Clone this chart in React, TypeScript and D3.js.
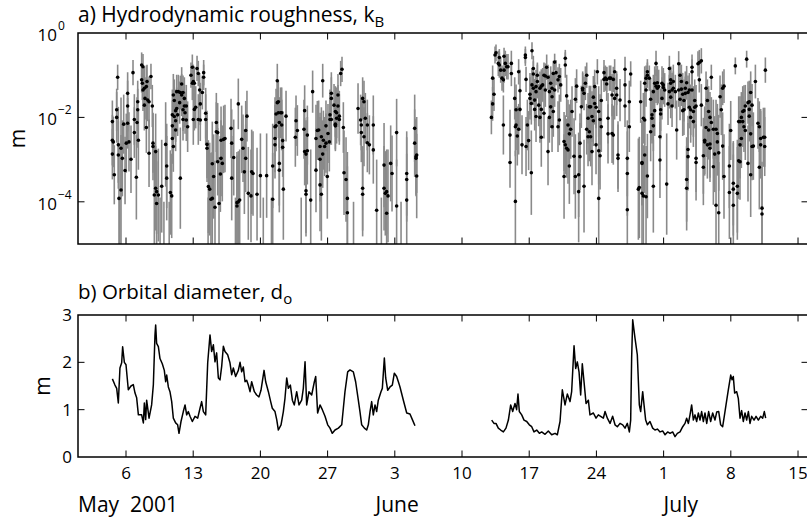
import React from "react";
import * as d3 from "d3";

// ---- axis definitions (days since 1 May 2001) ----
const weekTickDays = [5, 12, 19, 26, 33, 40, 47, 54, 61, 68, 75];
const weekTickLabels = ["6", "13", "20", "27", "3", "10", "17", "24", "1", "8", "15"];
const monthStartDays = [0, 31, 61];
const monthLabels = ["May  2001", "June", "July"];
const kbDecadeTicks = [1e-4, 1e-2, 1];
const kbTickExponents = ["\u22124", "\u22122", "0"];
const doTicks = [0, 1, 2, 3];

// ---- a) hydrodynamic roughness: [day, log10(kB in m), error half-width in decades] ----
const kbObs: [number, number, number][] = [
  [3.58,-2.10,0.5],[3.58,-2.54,0.6],[3.58,-2.87,0.6],[3.68,-2.58,0.6],[3.78,-3.36,0.7],
  [4.03,-2.00,0.6],[4.03,-1.82,0.5],[4.13,-1.05,0.3],[4.20,-2.65,0.9],[4.20,-2.89,0.8],
  [4.27,-3.92,1.3],[4.35,-5.3,1.4],[4.48,-2.73,1.2],[4.48,-3.72,1.3],[4.62,-2.97,0.9],[4.76,-2.16,0.7],
  [4.90,-3.26,0.8],[5.03,-2.61,0.7],[5.17,-1.43,0.5],[5.17,-1.73,0.6],[5.17,-2.14,0.6],
  [5.31,-2.58,0.7],[5.52,-2.99,0.8],[5.73,-0.94,0.3],[5.87,-2.05,0.6],[5.87,-2.36,0.6],
  [6.08,-3.42,1.0],[6.15,-2.12,0.6],[6.22,-1.82,0.5],[6.22,-1.63,0.5],[6.29,-2.54,0.7],
  [6.63,-0.76,0.3],[6.63,-1.11,0.3],[6.70,-1.19,0.4],[6.77,-0.80,0.3],[6.77,-1.35,0.5],
  [6.91,-1.31,0.5],[6.91,-1.71,0.6],[6.98,-1.55,0.5],[7.12,-1.27,0.5],[7.12,-2.24,0.6],
  [7.19,-1.15,0.4],[7.26,-1.59,0.5],[7.40,-1.63,0.6],[7.40,-2.85,0.8],[7.60,-1.03,0.3],
  [7.74,-1.73,0.5],[7.81,-2.69,0.8],[7.81,-2.61,0.7],[7.95,-3.84,1.2],[8.09,-2.81,0.9],
  [8.09,-3.68,1.0],[8.19,-3.76,1.0],[8.19,-4.04,1.0],[8.37,-3.84,1.1],[8.55,-5.4,1.5],[8.72,-3.63,1.1],
  [8.95,-5.3,1.3],[9.13,-2.64,1.0],[9.24,-3.15,1.0],[9.24,-3.44,1.0],[9.5,-5.4,1.4],[9.62,-3.78,1.0],[9.76,-3.86,1.0],
  [9.83,-2.20,0.6],[9.83,-2.50,0.6],[9.83,-1.94,0.6],[9.93,-2.69,0.6],[9.93,-1.47,0.5],
  [10.03,-1.60,0.5],[10.03,-1.98,0.5],[10.17,-2.08,0.5],[10.17,-1.84,0.5],[10.17,-2.30,0.5],
  [10.28,-1.79,0.5],[10.28,-1.39,0.4],[10.38,-1.94,0.5],[10.45,-1.39,0.4],[10.59,-1.65,0.5],
  [10.66,-1.41,0.4],[10.66,-3.44,1.2],[10.80,-1.21,0.4],[10.80,-1.47,0.5],[10.94,-1.41,0.4],
  [10.94,-1.82,0.5],[10.94,-2.05,0.5],[11.08,-1.55,0.5],[11.08,-1.73,0.5],[11.15,-1.89,0.5],
  [11.28,-1.73,0.5],[11.28,-2.06,0.5],[11.42,-2.22,0.6],[11.77,-1.00,0.3],[11.91,-0.81,0.3],
  [11.91,-1.19,0.4],[12.01,-1.15,0.4],[12.01,-2.05,0.6],[12.12,-1.19,0.4],[12.12,-1.81,0.5],
  [12.26,-1.76,0.5],[12.40,-0.84,0.3],[12.53,-0.96,0.3],[12.53,-2.05,0.6],[12.67,-1.35,0.4],
  [12.74,-1.68,0.5],[12.74,-2.06,0.5],[12.95,-1.41,0.4],[13.09,-0.94,0.3],[13.09,-1.05,0.3],
  [13.30,-2.05,0.6],[13.30,-1.90,0.6],[13.44,-2.64,0.8],[13.44,-2.73,0.8],[13.55,-5.2,1.3],[13.58,-3.64,1.1],
  [13.72,-3.70,1.1],[13.85,-3.94,1.1],[13.99,-3.10,1.0],[13.99,-3.92,1.1],[14.13,-3.40,1.0],
  [14.27,-4.13,1.1],[14.41,-2.12,0.7],[14.41,-2.34,0.7],[14.55,-2.36,0.7],[14.55,-3.05,0.8],
  [14.69,-4.04,1.1],[14.83,-3.34,0.9],[14.90,-2.97,0.9],[14.90,-2.54,0.8],[15.03,-3.09,0.9],
  [15.17,-2.52,0.8],[15.31,-2.50,0.8],[15.94,-2.26,0.7],[16.01,-2.61,0.8],[16.01,-3.44,1.0],
  [16.22,-2.95,0.9],[16.4,-5.5,1.6],[16.56,-4.10,1.2],[16.56,-4.02,1.2],[16.70,-1.68,0.6],[16.70,-4.00,1.2],
  [16.84,-3.96,1.2],[17.05,-2.52,0.8],[17.19,-2.73,0.8],[17.33,-3.29,1.0],[17.47,-2.31,0.7],
  [17.47,-2.97,0.8],[17.60,-1.97,0.6],[17.74,-3.80,1.1],[18.02,-3.86,1.1],[18.09,-3.29,1.0],
  [18.23,-3.33,1.0],[18.65,-3.82,1.1],[19.00,-3.38,1.0],[19.3,-5.3,1.4],
  [19.65,-3.38,1.0],[20.15,-5.4,1.5],[20.28,-3.15,1.0],[20.28,-3.94,1.1],[20.52,-2.50,0.8],[20.52,-2.65,0.8],
  [20.52,-2.22,0.7],[20.63,-1.92,0.6],[20.63,-2.20,0.6],[20.76,-1.13,0.4],[20.76,-1.65,0.5],
  [20.87,-1.63,0.5],[20.87,-1.89,0.6],[20.97,-3.09,1.0],[20.97,-3.25,1.0],[20.97,-2.12,0.6],
  [21.11,-1.89,0.6],[21.22,-2.18,0.6],[21.22,-1.89,0.6],[21.32,-2.55,0.7],[21.32,-2.71,0.7],
  [21.39,-3.70,1.2],[21.67,-1.97,0.6],[22.64,-2.47,0.7],[22.71,-2.08,0.6],[22.85,-2.31,0.6],
  [23.25,-5.3,1.4],[23.54,-2.28,0.7],[23.61,-1.84,0.6],[23.61,-2.81,0.8],[23.75,-2.87,0.8],[23.75,-3.74,1.0],
  [23.75,-3.82,1.0],[23.89,-2.42,0.7],[23.89,-2.79,0.8],[24.24,-3.96,1.2],[24.44,-1.39,0.5],
  [24.79,-3.25,1.0],[24.79,-2.50,0.8],[24.93,-2.31,0.7],[25.07,-2.30,0.7],[25.21,-3.60,1.1],
  [25.21,-2.99,1.0],[25.21,-2.69,0.8],[25.35,-2.46,0.7],[25.35,-3.82,1.1],[25.49,-1.13,0.4],
  [25.49,-2.87,0.8],[25.56,-2.54,0.7],[25.69,-2.69,0.7],[25.83,-2.20,0.6],[25.83,-2.61,0.7],
  [25.97,-3.40,1.0],[26.04,-2.38,0.7],[26.18,-2.58,0.7],[26.25,-1.94,0.6],[26.25,-2.05,0.6],
  [26.39,-1.43,0.5],[26.39,-1.55,0.5],[26.39,-2.05,0.6],[26.67,-1.71,0.5],[26.81,-1.86,0.6],
  [26.81,-2.16,0.6],[26.81,-2.20,0.6],[26.94,-2.02,0.6],[26.94,-1.89,0.6],[27.08,-1.47,0.5],
  [27.08,-1.73,0.5],[27.22,-2.05,0.6],[27.22,-1.97,0.6],[27.36,-0.96,0.3],[27.50,-0.86,0.3],
  [27.64,-2.24,0.6],[27.71,-3.31,1.0],[27.92,-3.47,1.0],[28.06,-3.92,1.1],[28.06,-4.26,1.1],
  [28.7,-5.3,1.3],[29.17,-1.79,0.6],[29.44,-2.06,0.6],[29.51,-2.36,0.7],[29.51,-2.18,0.6],[29.65,-1.55,0.5],
  [29.65,-3.68,1.0],[29.65,-3.82,1.0],[29.79,-1.63,0.5],[29.79,-2.46,0.7],[29.93,-2.02,0.6],
  [30.14,-2.18,0.6],[30.14,-2.60,0.7],[30.35,-2.65,0.7],[30.76,-2.18,0.7],[30.76,-2.77,0.8],
  [31.11,-4.20,1.2],[31.6,-5.2,1.3],[31.88,-3.13,1.0],[31.88,-3.68,1.0],[32.01,-3.80,1.0],[32.15,-3.76,1.0],
  [32.15,-4.27,1.1],[32.29,-3.86,1.1],[32.57,-3.09,0.9],[32.71,-3.33,0.9],[33.19,-4.10,1.1],
  [33.19,-2.36,0.8],[33.65,-5.4,1.4],[34.24,-3.33,1.0],[34.24,-3.47,1.0],[34.24,-3.96,1.1],[35.07,-2.26,0.8],
  [35.07,-2.61,0.8],[35.21,-2.93,0.9],[35.21,-2.97,0.9],[35.28,-2.89,0.9],[35.28,-3.39,1.0],
  [43.06,-2.00,0.4],[43.19,-1.68,0.4],[43.19,-1.07,0.3],[43.33,-1.45,0.4],[43.44,-0.52,0.2],
  [43.54,-0.47,0.2],[43.78,-0.72,0.3],[43.89,-0.76,0.3],[43.89,-0.58,0.2],[44.03,-0.88,0.3],
  [44.17,-1.07,0.3],[44.31,-2.18,0.7],[44.31,-1.11,0.3],[44.38,-0.55,0.2],[44.38,-0.88,0.3],
  [44.51,-0.72,0.3],[44.65,-0.80,0.3],[44.79,-0.80,0.3],[45.00,-2.42,0.6],[45.00,-3.07,0.6],
  [45.14,-0.96,0.3],[45.14,-0.72,0.3],[45.49,-1.55,0.5],[45.56,-3.99,1.2],[45.56,-2.22,0.7],
  [45.63,-1.82,0.6],[45.63,-2.18,0.6],[45.76,-2.44,0.7],[45.90,-0.92,0.3],[45.90,-2.28,0.6],
  [46.04,-1.37,0.5],[46.04,-1.81,0.5],[46.25,-2.65,0.7],[46.60,-0.52,0.2],[46.60,-0.58,0.2],
  [46.67,-1.10,0.3],[46.67,-2.69,0.7],[46.81,-2.18,0.6],[46.94,-2.55,0.7],[47.08,-1.45,0.5],
  [47.08,-1.55,0.5],[47.22,-3.31,1.0],[47.22,-1.67,0.5],[47.29,-0.42,0.2],[47.29,-1.23,0.4],
  [47.43,-0.84,0.3],[47.43,-1.31,0.4],[47.43,-0.97,0.3],[47.57,-1.59,0.5],[47.57,-1.81,0.5],
  [47.71,-1.27,0.4],[47.71,-1.39,0.4],[47.71,-1.98,0.6],[47.85,-1.00,0.3],[47.85,-1.15,0.4],
  [47.99,-1.71,0.5],[48.12,-1.31,0.4],[48.12,-2.00,0.6],[48.26,-2.47,0.7],[48.26,-1.26,0.4],
  [48.26,-1.81,0.5],[48.40,-1.23,0.4],[48.54,-1.00,0.3],[48.54,-1.90,0.6],[48.68,-1.35,0.4],
  [48.68,-1.02,0.3],[48.82,-0.81,0.3],[48.96,-2.81,0.8],[48.96,-1.05,0.3],[49.10,-1.39,0.4],
  [49.10,-2.00,0.6],[49.24,-1.75,0.5],[49.24,-1.19,0.4],[49.38,-2.22,0.6],[49.38,-1.51,0.5],
  [49.38,-1.31,0.4],[49.51,-0.96,0.3],[49.51,-1.86,0.6],[49.65,-0.69,0.2],[49.65,-1.35,0.4],
  [49.79,-0.94,0.3],[50.00,-1.11,0.3],[50.00,-2.22,0.6],[50.14,-1.03,0.3],[50.14,-2.06,0.6],
  [50.28,-1.23,0.4],[50.63,-3.40,1.0],[50.63,-2.57,0.7],[50.76,-0.60,0.2],[50.76,-0.76,0.3],
  [50.76,-2.65,0.7],[50.90,-1.49,0.5],[50.90,-2.73,0.7],[51.04,-2.18,0.6],[51.04,-2.77,0.8],
  [51.18,-3.15,0.9],[51.18,-2.39,0.7],[51.32,-2.28,0.7],[51.46,-1.86,0.6],[51.67,-2.92,0.9],
  [51.81,-1.57,0.5],[51.81,-3.40,1.0],[51.94,-1.26,0.4],[52.15,-3.76,1.2],[52.15,-3.36,1.0],
  [52.29,-2.61,0.7],[52.29,-2.93,0.8],[52.43,-1.75,0.5],[52.57,-1.31,0.4],[52.57,-1.35,0.4],
  [52.71,-3.63,1.1],[52.71,-1.43,0.4],[52.85,-1.19,0.4],[52.99,-1.00,0.3],[52.99,-2.28,0.6],
  [53.13,-2.46,0.7],[53.13,-2.02,0.6],[53.26,-1.75,0.5],[53.26,-2.34,0.7],[53.40,-1.75,0.5],
  [53.40,-2.46,0.7],[53.54,-1.98,0.6],[53.54,-2.81,0.8],[53.68,-1.52,0.5],[53.68,-2.08,0.6],
  [53.82,-1.67,0.5],[53.82,-1.27,0.4],[53.96,-1.76,0.5],[53.96,-2.65,0.7],[54.10,-0.92,0.3],
  [54.24,-3.92,1.2],[54.24,-1.86,0.6],[54.24,-2.79,0.8],[54.38,-2.91,0.8],[54.38,-2.05,0.6],
  [54.51,-2.22,0.6],[54.51,-1.60,0.5],[54.79,-0.94,0.3],[54.79,-1.10,0.3],[54.93,-1.07,0.3],
  [55.07,-1.10,0.3],[55.07,-1.21,0.4],[55.21,-2.39,0.7],[55.21,-2.02,0.6],[55.35,-1.07,0.3],
  [55.49,-1.07,0.3],[55.63,-1.47,0.5],[55.63,-2.38,0.7],[55.76,-1.10,0.3],[55.76,-2.42,0.7],
  [55.90,-0.92,0.3],[55.90,-1.55,0.5],[56.11,-1.31,0.4],[56.11,-1.47,0.5],[56.25,-2.89,0.8],
  [56.25,-2.97,0.8],[56.46,-1.59,0.5],
  [56.98,-0.86,0.3],[56.98,-1.23,0.4],[56.98,-1.73,0.5],[57.22,-2.97,0.9],[57.22,-3.33,1.0],
  [57.22,-4.19,1.2],[57.43,-2.22,0.6],[57.43,-1.63,0.5],[57.57,-0.97,0.3],[58.37,-3.70,1.2],
  [58.47,-3.66,1.2],[58.61,-1.63,0.5],[58.75,-3.07,1.0],[58.75,-3.09,1.0],[58.75,-3.80,1.2],
  [58.89,-3.86,1.2],[58.89,-2.02,0.6],[59.03,-2.89,0.9],[59.03,-2.06,0.6],[59.03,-1.19,0.4],
  [59.17,-3.88,1.2],[59.17,-1.35,0.4],[59.17,-1.07,0.3],[59.31,-0.92,0.3],[59.31,-1.00,0.3],
  [59.31,-3.39,1.0],[59.51,-1.07,0.3],[59.65,-1.57,0.5],[59.65,-2.34,0.7],[59.79,-2.02,0.6],
  [59.79,-1.94,0.6],[59.93,-3.63,1.1],[59.93,-1.39,0.4],[59.93,-2.20,0.6],[60.07,-1.84,0.6],
  [60.07,-1.19,0.4],[60.21,-1.26,0.4],[60.21,-0.72,0.3],[60.35,-1.31,0.4],[60.35,-1.18,0.4],
  [60.49,-1.27,0.4],[60.62,-2.46,0.8],[60.62,-3.01,0.9],[60.69,-1.82,0.5],[60.69,-1.92,0.6],
  [60.83,-1.55,0.5],[60.83,-1.19,0.4],[60.97,-1.23,0.4],[60.97,-1.29,0.4],[61.11,-1.35,0.4],
  [61.32,-3.58,1.2],[61.46,-1.68,0.5],[61.60,-1.39,0.4],[61.60,-0.84,0.3],[61.74,-1.52,0.5],
  [61.74,-1.19,0.4],[61.74,-1.11,0.3],[61.88,-1.35,0.4],[61.88,-1.73,0.5],[62.01,-1.31,0.4],
  [62.01,-1.15,0.4],[62.22,-1.39,0.4],[62.36,-2.30,0.7],[62.57,-0.73,0.3],[62.57,-1.35,0.4],
  [62.71,-1.57,0.5],[62.71,-1.00,0.3],[62.85,-1.15,0.4],[62.85,-1.33,0.4],[62.99,-1.84,0.6],
  [62.99,-1.45,0.5],[63.12,-1.60,0.5],[63.12,-1.82,0.6],[63.26,-1.43,0.4],[63.26,-1.31,0.4],
  [63.40,-3.47,1.0],[63.40,-3.68,1.0],[63.40,-1.18,0.4],[63.54,-2.93,0.8],[63.54,-2.76,0.8],
  [63.54,-1.41,0.4],[63.68,-1.35,0.4],[63.68,-1.76,0.5],[63.82,-2.00,0.6],[63.82,-1.82,0.6],
  [63.96,-0.81,0.3],[63.96,-0.92,0.3],[63.96,-1.35,0.4],[64.10,-2.10,0.6],[64.10,-1.86,0.6],
  [64.24,-1.60,0.5],[64.24,-1.76,0.5],[64.38,-1.73,0.5],[64.38,-2.97,0.8],[64.38,-3.07,0.9],
  [64.58,-0.73,0.3],[64.72,-0.70,0.3],[64.72,-1.11,0.3],[64.93,-0.66,0.3],[64.93,-1.71,0.5],
  [65.14,-2.91,0.9],[65.14,-3.18,0.9],[65.28,-2.58,0.8],[65.28,-2.54,0.8],[65.42,-1.31,0.4],
  [65.42,-2.24,0.7],[65.56,-1.60,0.5],[65.56,-2.65,0.8],[65.69,-2.30,0.7],[65.69,-1.86,0.6],
  [65.83,-2.00,0.6],[65.83,-2.63,0.8],[65.83,-2.73,0.8],[65.97,-1.05,0.3],[65.97,-2.12,0.6],
  [66.18,-2.28,0.7],[66.18,-3.17,0.9],[66.32,-2.87,0.9],[66.46,-4.08,1.2],[66.46,-2.28,0.7],
  [66.60,-2.58,0.8],[66.60,-2.38,0.7],[66.74,-4.26,1.2],[66.74,-2.84,0.9],[66.88,-1.51,0.5],
  [67.01,-1.82,0.6],[67.15,-1.31,0.4],[67.15,-2.68,0.8],[67.29,-1.26,0.4],[67.29,-3.40,1.0],
  [67.85,-3.15,1.0],[67.85,-3.78,1.1],[67.99,-2.31,0.7],[68.26,-3.56,1.0],[68.26,-3.70,1.1],
  [68.26,-4.08,1.2],[68.47,-0.78,0.2],[68.68,-3.63,1.1],[68.68,-3.80,1.1],[68.82,-2.10,0.6],
  [68.82,-3.03,0.9],[68.96,-2.10,0.6],[68.96,-2.65,0.8],[68.96,-3.05,0.9],[69.10,-2.00,0.6],
  [69.10,-2.50,0.7],[69.24,-1.86,0.6],[69.24,-2.10,0.6],[69.37,-1.84,0.6],[69.37,-2.22,0.6],
  [69.51,-1.73,0.5],[69.51,-2.31,0.7],[69.65,-0.62,0.2],[69.79,-3.09,0.9],[69.79,-1.65,0.5],
  [69.92,-1.81,0.5],[69.92,-1.63,0.5],[69.92,-1.97,0.6],[70.07,-1.41,0.5],[70.07,-2.39,0.7],
  [70.07,-3.36,1.0],[70.21,-1.71,0.5],[70.21,-2.69,0.8],[70.35,-2.68,0.8],[70.56,-1.15,0.4],
  [70.83,-2.14,0.6],[70.97,-2.22,0.6],[70.97,-3.18,1.0],[71.11,-2.50,0.7],[71.11,-2.65,0.8],
  [71.25,-4.15,1.1],[71.25,-4.29,1.1],[71.39,-2.47,0.7],[71.53,-2.69,0.7],[71.53,-2.47,0.7],
  [71.60,-0.88,0.3],
];

// ---- b) orbital diameter: [day, d_o in m] ----
const orbitalMayJune: [number, number][] = [
  [3.58,1.65],[3.85,1.52],[4.03,1.45],[4.20,1.14],[4.37,1.88],[4.55,1.99],[4.65,2.33],[4.83,2.0],
  [5.00,1.95],[5.24,1.42],[5.52,1.5],[5.76,1.53],[5.94,1.35],[6.11,1.25],[6.29,0.89],[6.63,0.89],
  [6.81,0.72],[6.91,1.14],[7.05,0.79],[7.15,1.2],[7.40,0.82],[7.67,1.1],[7.85,1.53],[8.02,2.58],
  [8.09,2.79],[8.19,2.4],[8.37,2.33],[8.54,2.08],[8.78,1.97],[8.99,1.83],[9.13,1.59],[9.24,1.73],
  [9.41,1.48],[9.58,1.38],[9.76,1.17],[9.93,0.82],[10.17,0.72],[10.38,0.68],[10.52,0.5],[10.73,0.75],
  [10.97,0.96],[11.15,1.1],[11.32,0.89],[11.49,0.96],[11.67,0.86],[11.91,0.75],[12.19,0.86],[12.47,0.82],
  [12.71,1.03],[12.88,1.17],[13.06,0.96],[13.30,0.89],[13.51,1.99],[13.75,2.58],[13.92,2.23],[14.10,2.37],
  [14.27,2.01],[14.44,2.2],[14.62,1.67],[14.79,1.63],[14.97,1.92],[15.14,2.34],[15.31,2.23],[15.59,2.16],
  [15.83,1.99],[16.01,1.74],[16.18,1.88],[16.42,1.7],[16.70,1.83],[16.88,2.0],[17.05,1.8],[17.22,1.9],
  [17.40,1.59],[17.57,1.62],[17.74,1.52],[17.92,1.38],[18.09,1.59],[18.37,1.38],[18.61,1.31],[18.85,1.27],
  [19.06,1.41],[19.20,1.59],[19.38,1.83],[19.55,1.59],[19.83,1.38],[20.07,1.17],[20.24,1.03],[20.52,0.96],
  [20.70,0.79],[20.87,0.57],[21.15,0.68],[21.39,0.96],[21.56,1.24],[21.74,1.67],[21.91,1.45],[22.12,1.52],
  [22.33,1.2],[22.53,1.1],[22.78,1.38],[23.02,1.1],[23.30,1.2],[23.47,1.45],[23.65,2.01],[23.82,1.1],
  [24.06,1.38],[24.34,1.31],[24.62,1.59],[24.76,1.7],[24.96,0.93],[25.21,1.1],[25.45,1.0],[25.73,0.86],
  [26.01,0.68],[26.25,0.61],[26.49,0.5],[26.77,0.57],[27.12,0.61],[27.47,0.68],[27.64,1.03],[27.81,1.38],
  [28.09,1.8],[28.33,1.84],[28.68,1.8],[28.92,1.59],[29.20,1.2],[29.37,0.96],[29.55,0.68],[29.83,0.61],
  [30.07,0.57],[30.24,0.68],[30.42,0.96],[30.59,1.17],[30.76,0.89],[30.94,1.1],[31.11,0.96],[31.28,1.2],
  [31.56,1.38],[31.70,1.45],[31.91,2.09],[32.05,1.67],[32.26,1.41],[32.50,1.48],[32.74,1.52],[32.95,1.77],
  [33.19,1.7],[33.37,1.59],[33.54,1.48],[33.89,1.2],[34.24,0.93],[34.58,0.91],[34.83,0.79],[35.10,0.66],
];
const orbitalJuneJuly: [number, number][] = [
  [43.09,0.78],[43.33,0.71],[43.54,0.71],[43.78,0.61],[44.03,0.57],[44.31,0.53],[44.58,0.61],[44.83,0.78],
  [45.07,1.1],[45.28,0.96],[45.52,1.13],[45.69,1.0],[45.83,1.33],[45.97,0.96],[46.22,0.89],[46.46,0.78],
  [46.74,0.75],[47.01,0.68],[47.26,0.64],[47.50,0.53],[47.78,0.57],[48.06,0.5],[48.30,0.53],[48.65,0.48],
  [48.99,0.55],[49.34,0.47],[49.69,0.5],[49.93,0.47],[50.21,0.75],[50.45,1.42],[50.73,1.1],[50.97,1.33],
  [51.25,1.17],[51.42,1.38],[51.67,2.35],[51.84,1.87],[52.01,2.01],[52.19,1.8],[52.36,1.31],[52.53,1.97],
  [52.71,1.59],[52.92,1.13],[53.16,1.2],[53.33,0.89],[53.68,0.93],[53.96,0.82],[54.20,0.89],[54.44,0.86],
  [54.72,0.82],[54.90,0.96],[55.14,0.82],[55.42,0.71],[55.69,0.86],[55.94,0.68],[56.18,0.64],[56.46,0.71],
  [56.74,0.68],[56.98,0.61],[57.22,0.71],[57.43,0.53],[57.57,0.78],[57.67,2.09],[57.78,2.9],[58.02,2.51],
  [58.26,2.16],[58.47,1.1],[58.61,0.96],[58.82,1.38],[58.96,1.1],[59.13,0.78],[59.31,0.68],[59.58,0.75],
  [59.86,0.61],[60.10,0.57],[60.35,0.59],[60.63,0.53],[60.90,0.55],[61.15,0.47],[61.42,0.53],[61.67,0.5],
  [61.94,0.53],[62.19,0.43],[62.43,0.5],[62.71,0.53],[62.99,0.64],[63.23,0.71],[63.40,0.82],[63.58,0.71],
  [63.75,0.89],[63.92,1.1],[64.10,0.78],[64.27,0.89],[64.44,0.75],[64.62,0.93],[64.79,0.78],[64.96,0.96],
  [65.14,0.75],[65.31,0.93],[65.49,0.71],[65.69,0.96],[65.90,0.75],[66.11,0.93],[66.35,0.78],[66.53,0.95],
  [66.74,0.96],[66.94,0.68],[67.15,0.64],[67.29,0.82],[67.50,1.1],[67.74,1.42],[67.99,1.73],[68.13,1.63],
  [68.26,1.7],[68.40,1.35],[68.61,1.38],[68.78,1.24],[68.96,0.82],[69.13,0.98],[69.30,0.75],[69.48,0.93],
  [69.65,0.78],[69.83,0.96],[70.00,0.71],[70.17,0.86],[70.42,0.78],[70.63,0.86],[70.87,0.78],[71.11,0.86],
  [71.32,0.82],[71.49,0.96],[71.63,0.82],
];

const FONT = "'Open Sans', 'DejaVu Sans', sans-serif";

export default function App() {
  const W = 807, H = 517;
  const left = 78, right = 808;
  const aTop = 33, aBot = 244;
  const bTop = 315, bBot = 457;
  const tick = 6.5;

  const x = d3.scaleLinear().domain([0, 76.04]).range([left, right]);
  const yA = d3.scaleLog().domain([1e-5, 1]).range([aBot, aTop]);
  const yB = d3.scaleLinear().domain([0, 3]).range([bBot, bTop]);

  const line = d3
    .line<[number, number]>()
    .x((d) => x(d[0]))
    .y((d) => yB(d[1]));

  const frame = (top: number, bot: number, yTicks: number[]) => (
    <g>
      {weekTickDays.map((d) => (
        <g key={"t" + d}>
          <line x1={x(d)} x2={x(d)} y1={top} y2={top + tick} stroke="#000" strokeWidth={1} />
          <line x1={x(d)} x2={x(d)} y1={bot} y2={bot - tick} stroke="#000" strokeWidth={1} />
        </g>
      ))}
      {yTicks.map((yy, i) => (
        <g key={"y" + i}>
          <line x1={left} x2={left + tick} y1={yy} y2={yy} stroke="#000" strokeWidth={1} />
          <line x1={right} x2={right - tick} y1={yy} y2={yy} stroke="#000" strokeWidth={1} />
        </g>
      ))}
      <rect x={left} y={top} width={right - left} height={bot - top} fill="none" stroke="#000" strokeWidth={1.5} />
    </g>
  );

  return (
    <svg
      width={W}
      height={H}
      style={{ position: "absolute", left: 0, top: 0, background: "#fff" }}
      fontFamily={FONT}
    >
      <defs>
        <clipPath id="clipA">
          <rect x={left} y={aTop} width={right - left} height={aBot - aTop} />
        </clipPath>
        <clipPath id="clipB">
          <rect x={left} y={bTop} width={right - left} height={bBot - bTop} />
        </clipPath>
      </defs>

      {/* Panel a */}
      <text x={left} y={22} fontSize={21}>
        a) Hydrodynamic roughness, k
        <tspan fontSize={15} dy={5}>B</tspan>
      </text>
      <g clipPath="url(#clipA)">
        {kbObs.map((p, i) => (
          <line
            key={"e" + i}
            x1={x(p[0])}
            x2={x(p[0])}
            y1={yA(Math.pow(10, p[1] + p[2]))}
            y2={yA(Math.pow(10, p[1] - p[2]))}
            stroke="#8a8a8a"
            strokeWidth={1.6}
          />
        ))}
        {kbObs.map((p, i) => (
          <circle key={"p" + i} cx={x(p[0])} cy={yA(Math.pow(10, p[1]))} r={1.8} fill="#000" />
        ))}
      </g>
      {frame(aTop, aBot, kbDecadeTicks.slice(0, 2).map((v) => yA(v)))}
      {kbDecadeTicks.map((v, i) => (
        <g key={"kl" + i}>
          <text x={57} y={yA(v) + 8} fontSize={17} textAnchor="end">10</text>
          <text x={58} y={yA(v) - 3} fontSize={12}>{kbTickExponents[i]}</text>
        </g>
      ))}
      <text transform={`translate(25,${(aTop + aBot) / 2}) rotate(-90)`} fontSize={21} textAnchor="middle">m</text>

      {/* Panel b */}
      <text x={left} y={299} fontSize={20.5}>
        b) Orbital diameter, d
        <tspan fontSize={15} dy={5}>o</tspan>
      </text>
      <g clipPath="url(#clipB)">
        <path d={line(orbitalMayJune) || ""} fill="none" stroke="#000" strokeWidth={1.5} strokeLinejoin="round" />
        <path d={line(orbitalJuneJuly) || ""} fill="none" stroke="#000" strokeWidth={1.5} strokeLinejoin="round" />
      </g>
      {frame(bTop, bBot, doTicks.slice(1, 3).map((v) => yB(v)))}
      {doTicks.map((v) => (
        <text key={"bl" + v} x={72} y={yB(v)} dy="0.36em" fontSize={17} textAnchor="end">{v}</text>
      ))}
      <text transform={`translate(50,${(bTop + bBot) / 2}) rotate(-90)`} fontSize={21} textAnchor="middle">m</text>

      {weekTickDays.map((d, i) => (
        <text key={"xl" + d} x={x(d)} y={479} fontSize={17} textAnchor="middle">{weekTickLabels[i]}</text>
      ))}
      {monthStartDays.map((d, i) => (
        <text key={"ml" + d} x={x(d)} y={512} fontSize={21} style={{ whiteSpace: "pre" }}>{monthLabels[i]}</text>
      ))}
    </svg>
  );
}
